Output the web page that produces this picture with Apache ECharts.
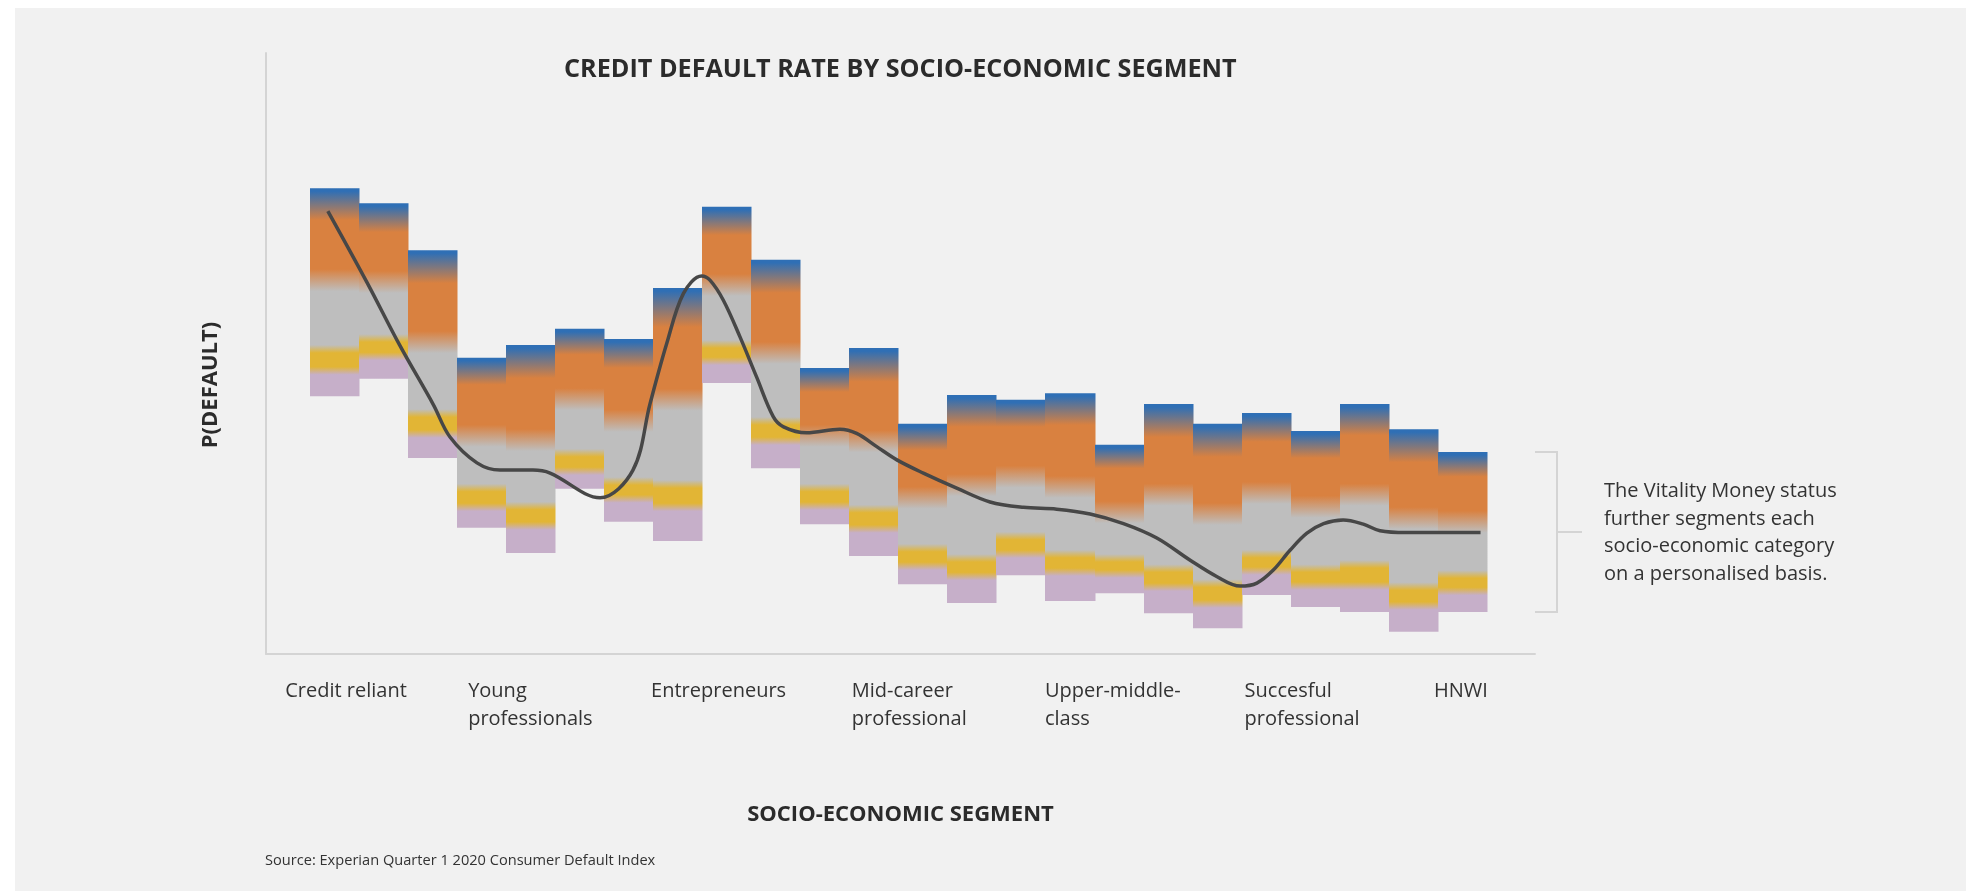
<!DOCTYPE html>
<html>
<head>
<meta charset="utf-8">
<script src="https://cdn.jsdelivr.net/npm/echarts@6/dist/echarts.min.js"></script>
<style>
  html, body { margin: 0; padding: 0; background: #ffffff; }
  #bg { position: absolute; left: 15px; top: 8px; width: 1951px; height: 883px; background: #f1f1f1; }
  #chart { position: absolute; left: 0; top: 0; width: 1966px; height: 891px; }
</style>
</head>
<body>
<div id="bg"></div>
<div id="chart"></div>
<script>
// ---- data ----
const segments = ['Credit reliant', 'Young\nprofessionals', 'Entrepreneurs', 'Mid-career\nprofessional', 'Upper-middle-\nclass', 'Succesful\nprofessional', 'HNWI'];
const segmentLabelAt = [-1.0, 2.73, 6.46, 10.55, 14.49, 18.56, 22.42];

// 24 sub-segment bars: band boundaries on the P(default) scale
const barTop       = [77.5, 75.0, 67.2, 49.3, 51.4, 54.1, 52.4, 60.9, 74.4, 65.6, 47.6, 50.9, 38.3, 43.1, 42.3, 43.4, 34.8, 41.6, 38.3, 40.1, 37.1, 41.6, 37.4, 33.6];
const orangeStart  = [72.2, 70.2, 61.7, 44.8, 45.9, 49.8, 47.6, 54.4, 69.7, 60.1, 43.6, 45.3, 33.9, 37.8, 37.8, 38.1, 30.9, 36.1, 32.8, 35.3, 32.6, 36.4, 31.9, 29.5];
const grayStart    = [62.2, 61.9, 51.9, 36.3, 35.6, 42.4, 38.8, 42.3, 61.4, 50.1, 36.3, 35.4, 26.0, 28.1, 29.5, 27.8, 23.6, 26.5, 23.3, 26.8, 24.5, 26.5, 22.6, 22.0];
const yellowTop    = [50.1, 51.9, 39.4, 27.0, 24.0, 32.8, 28.1, 27.6, 50.9, 38.1, 27.0, 23.5, 17.0, 15.3, 19.0, 16.0, 15.3, 13.6, 11.1, 16.0, 13.6, 14.3, 10.6, 12.6];
const yellowBottom = [47.8, 50.2, 37.3, 25.1, 22.0, 31.1, 26.5, 25.1, 49.4, 36.1, 25.3, 21.5, 15.3, 13.6, 17.3, 14.3, 14.0, 11.8, 9.0, 14.5, 12.0, 12.0, 8.7, 11.1];
const barBottom    = [42.9, 45.8, 32.6, 21.0, 16.8, 27.5, 22.0, 18.8, 45.1, 30.9, 21.6, 16.3, 11.6, 8.5, 13.1, 8.8, 10.1, 6.8, 4.3, 9.8, 7.8, 7.0, 3.7, 7.0];

// overall trend curve (x in bar-index units, y on P(default) scale)
const trendX = [-0.13, 0.67, 1.34, 2.02, 2.36, 2.91, 3.38, 4.05, 4.40, 5.42, 6.09, 6.44, 6.78, 7.12, 7.49, 7.66, 7.93, 8.27, 8.61, 8.95, 9.16, 9.63, 10.31, 10.65, 11.06, 11.47, 12.01, 12.69, 13.37, 14.05, 14.73, 15.41, 16.09, 16.77, 17.45, 17.99, 18.47, 18.81, 19.15, 19.49, 19.83, 20.17, 20.57, 20.98, 21.32, 21.86, 23.37];
const trendY = [73.7, 61.8, 51.3, 41.5, 36.1, 31.8, 30.6, 30.6, 30.1, 26.0, 30.6, 41.7, 51.7, 60.0, 62.9, 62.2, 58.9, 52.8, 46.1, 39.5, 37.8, 36.8, 37.4, 36.7, 34.5, 32.3, 30.1, 27.6, 25.3, 24.4, 24.1, 23.3, 21.7, 19.3, 15.6, 12.9, 11.3, 11.8, 14.0, 17.3, 20.1, 21.7, 22.3, 21.6, 20.5, 20.2, 20.2];

// ---- styles ----
const FONT = "'Open Sans', 'Noto Sans', sans-serif";
const C = { blue: '#2f6fb5', orange: '#d98140', gray: '#bebebe', yellow: '#e2b535', purple: '#c6afc9' };

const barRows = barTop.map((t, i) => [i, t, orangeStart[i], grayStart[i], yellowTop[i], yellowBottom[i], barBottom[i]]);
const trendData = trendX.map((x, i) => [x, trendY[i]]);

function renderBar(params, api) {
  const i = api.value(0);
  const p0 = api.coord([i - 0.5, api.value(1)]);
  const p1 = api.coord([i + 0.5, api.value(6)]);
  const xa = Math.round(p0[0]), xb = Math.round(p1[0]);
  const y0 = p0[1], y1 = p1[1], H = y1 - y0;
  const fr = v => (api.coord([i, v])[1] - y0) / H;
  const px = d => d / H;
  const pO = fr(api.value(2)), pG = fr(api.value(3)), pYt = fr(api.value(4)), pYb = fr(api.value(5));
  const raw = [
    [0, C.blue], [px(3), C.blue], [pO, C.orange],
    [pG - px(11), C.orange], [pG + px(11), C.gray],
    [pYt - px(8), C.gray], [pYt, C.yellow], [pYb, C.yellow],
    [pYb + px(8), C.purple], [1, C.purple]
  ];
  let last = 0;
  const stops = raw.map(([o, c]) => { o = Math.min(1, Math.max(last, o)); last = o; return { offset: o, color: c }; });
  return {
    type: 'rect',
    shape: { x: xa, y: y0, width: xb - xa + 0.5, height: H },
    style: { fill: new echarts.graphic.LinearGradient(0, 0, 0, 1, stops) }
  };
}

const chart = echarts.init(document.getElementById('chart'), null, { renderer: 'canvas' });

const sourceText = {
  type: 'text', left: 265, top: 853,
  style: { text: 'Source: Experian Quarter 1 2020 Consumer Default Index', fontFamily: FONT, fontSize: 14.6, fill: '#333333' }
};

const option = {
  backgroundColor: 'transparent',
  animation: false,
  title: {
    text: 'CREDIT DEFAULT RATE BY SOCIO-ECONOMIC SEGMENT',
    left: 564, top: 57, padding: 0,
    textStyle: { fontFamily: FONT, fontSize: 25.2, fontWeight: 'bold', color: '#2b2b2b' }
  },
  grid: { left: 266, right: 431, top: 53, bottom: 237 },
  xAxis: {
    type: 'value', min: -1.391, max: 24.48,
    name: 'SOCIO-ECONOMIC SEGMENT', nameLocation: 'middle', nameGap: 150,
    nameTextStyle: { fontFamily: FONT, fontSize: 22, fontWeight: 'bold', color: '#2b2b2b' },
    axisLine: { show: true, onZero: false, lineStyle: { color: '#d4d4d4', width: 2 } },
    axisTick: { show: false },
    splitLine: { show: false },
    axisLabel: {
      customValues: segmentLabelAt,
      formatter: function (v) {
        let k = 0, best = Infinity;
        segmentLabelAt.forEach((p, j) => { const d = Math.abs(p - v); if (d < best) { best = d; k = j; } });
        return segments[k];
      },
      align: 'left', verticalAlign: 'top', margin: 24, lineHeight: 27.5,
      fontFamily: FONT, fontSize: 20, color: '#333333'
    }
  },
  yAxis: {
    type: 'value', min: 0, max: 100,
    name: 'P(DEFAULT)', nameLocation: 'middle', nameRotate: 90, nameGap: 44,
    nameTextStyle: { fontFamily: FONT, fontSize: 22, fontWeight: 'bold', color: '#2b2b2b', padding: [0, 63, 0, 0] },
    axisLine: { show: true, onZero: false, lineStyle: { color: '#d4d4d4', width: 2 } },
    axisTick: { show: false },
    axisLabel: { show: false },
    splitLine: { show: false }
  },
  series: [
    {
      type: 'custom', name: 'Segments',
      renderItem: renderBar,
      encode: { x: 0, y: [1, 6] },
      data: barRows,
      z: 2
    },
    {
      type: 'line', name: 'Trend',
      data: trendData,
      smooth: 0.35,
      showSymbol: false, symbol: 'none',
      lineStyle: { color: '#474747', width: 3.5, cap: 'butt' },
      z: 3
    }
  ],
  graphic: [sourceText]
};
chart.setOption(option);

// bracket spanning the range of the last sub-segment bar, with the note beside it
const last = barTop.length - 1;
const toPx = p => chart.convertToPixel({ xAxisIndex: 0, yAxisIndex: 0 }, p);
const bt = toPx([last, barTop[last]])[1];
const bb = toPx([last, barBottom[last]])[1];
const xEnd = toPx([24.48, 0])[0];
const bx = xEnd + 22;
const bm = (bt + bb) / 2;
chart.setOption({
  graphic: [
    sourceText,
    {
      type: 'text', x: 1604, y: bm + 1,
      style: {
        text: 'The Vitality Money status\nfurther segments each\nsocio-economic category\non a personalised basis.',
        fontFamily: FONT, fontSize: 20, lineHeight: 27.5, fill: '#333333',
        align: 'left', verticalAlign: 'middle'
      }
    },
    {
      type: 'polyline',
      shape: { points: [[xEnd, bt], [bx, bt], [bx, bb], [xEnd, bb]] },
      style: { stroke: '#d4d4d4', lineWidth: 2, fill: null }
    },
    {
      type: 'line',
      shape: { x1: bx, y1: bm, x2: bx + 25, y2: bm },
      style: { stroke: '#d4d4d4', lineWidth: 2 }
    }
  ]
}, { replaceMerge: ['graphic'] });
</script>
</body>
</html>
